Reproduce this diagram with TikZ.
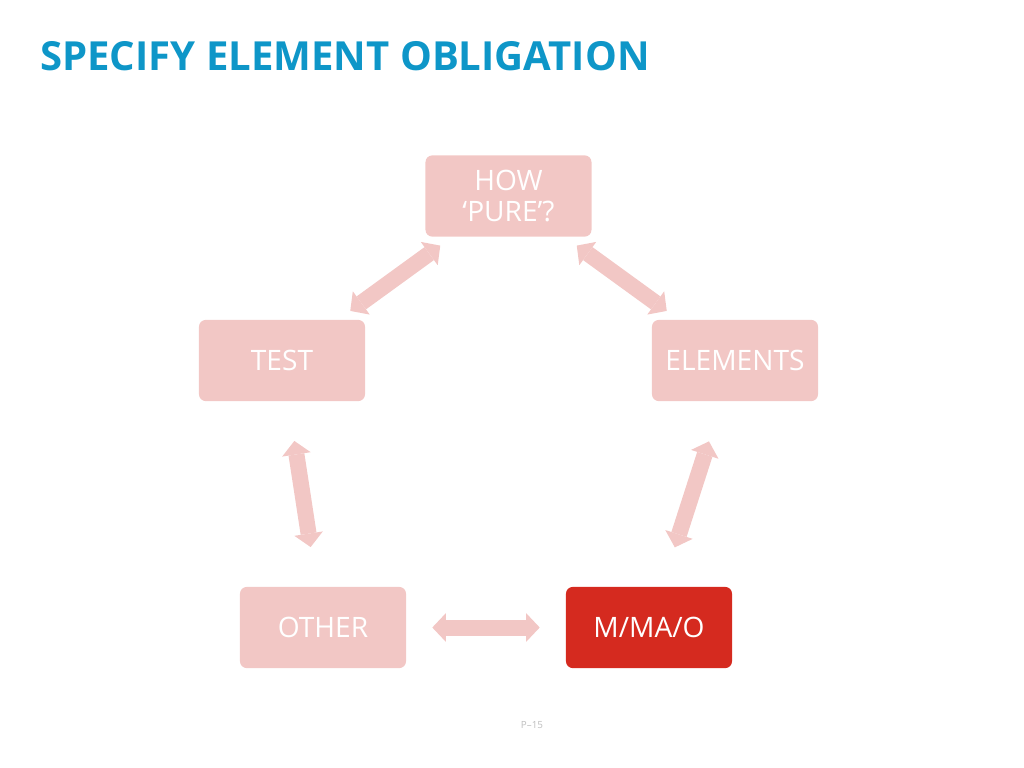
\documentclass[tikz,border=0pt]{standalone}
\usepackage{fontspec}
\setmainfont{Open Sans}
\usetikzlibrary{arrows.meta}

\definecolor{titleblue}{RGB}{14,150,200}
\definecolor{palepink}{RGB}{242,199,197}
\definecolor{mainred}{RGB}{213,42,31}
\definecolor{pagegrey}{RGB}{190,190,190}

\tikzset{
  stage/.style={fill=palepink, rounded corners=0.17cm, minimum width=4.15cm,
    minimum height=2.03cm, inner sep=0pt, text=white, align=center,
    font=\fontsize{20}{21.5}\selectfont},
  current/.style={stage, fill=mainred},
  link/.style={draw=palepink, line width=0.4cm,
    {Triangle[width=0.72cm,length=0.34cm,line width=0pt]}-{Triangle[width=0.72cm,length=0.34cm,line width=0pt]}}
}

\begin{document}
\begin{tikzpicture}[x=0.025cm,y=-0.025cm]
\useasboundingbox (0,0) rectangle (1024,768);

% Title
\node[anchor=base west, inner sep=0pt, text=titleblue,
  font=\fontsize{28.5}{32}\selectfont\bfseries] (title) at (40,71) {SPECIFY ELEMENT OBLIGATION};

% Boxes
\node[stage] (pure) at (508.5,196) {HOW\\‘PURE’?};
\node[stage] (test) at (282,360.5) {TEST};
\node[stage] (elements) at (735,360.5) {ELEMENTS};
\node[stage] (other) at (323,627.5) {OTHER};
\node[current] (mmao) at (649,627.5) {M/MA/O};

% Arrows
\draw[link, shorten <=0.37cm, shorten >=0.37cm] (pure) -- (test);
\draw[link, shorten <=0.37cm, shorten >=0.37cm] (pure) -- (elements);
\draw[link, shorten <=1cm, shorten >=1cm] (test) -- (other);
\draw[link, shorten <=1.05cm, shorten >=1.03cm] (elements) -- (mmao);
\draw[link, shorten <=0.65cm, shorten >=0.65cm] (other) -- (mmao);

% Page number
\node[text=pagegrey, font=\fontsize{7}{8}\selectfont] (page) at (532,725) {P–15};
\end{tikzpicture}
\end{document}
